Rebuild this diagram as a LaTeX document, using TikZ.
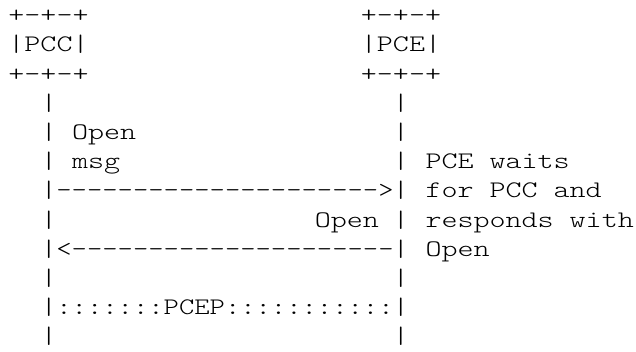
\documentclass[tikz,border=0pt]{standalone}
\usepackage{fontspec}
\newfontfamily\courwide{Latin Modern Mono Light}[FakeStretch=1.286]
\newfontfamily\courtight{Latin Modern Mono Light}[FakeStretch=1.23]
\begin{document}
\begin{tikzpicture}[x=0.75pt,y=-0.75pt,
  base/.style={inner sep=0pt,outer sep=0pt,text=black},
  wide/.style={base,font=\courwide\fontsize{17.8}{22}\selectfont},
  tight/.style={base,font=\courtight\fontsize{17.8}{22}\selectfont},
  bar/.style={wide,anchor=base},
  lefttxt/.style={wide,anchor=base west},
  righttxt/.style={wide,anchor=base east},
  midtxt/.style={tight,anchor=base}]
\fill[white] (0,0) rectangle (636,352);
\useasboundingbox (0,0) rectangle (636,352);
\def\rowy#1{22.8+29.2*#1}
% boxes
\node[bar] (pcctop) at (48.5,{\rowy{0}}) {+-+-+};
\node[bar] (pcetop) at (401,{\rowy{0}}) {+-+-+};
\node[bar] (pcc) at (48.5,{\rowy{1}}) {|PCC|};
\node[bar] (pce) at (401,{\rowy{1}}) {|PCE|};
\node[bar] (pccbot) at (48.5,{\rowy{2}}) {+-+-+};
\node[bar] (pcebot) at (401,{\rowy{2}}) {+-+-+};
% life lines
\foreach \r in {3,...,11}{
  \node[bar] (lbar\r) at (49,{\rowy{\r}}) {|};
  \node[bar] (rbar\r) at (401,{\rowy{\r}}) {|};
}
% left labels
\node[lefttxt] (open1) at (72,{\rowy{4}}) {Open};
\node[lefttxt] (msg) at (72,{\rowy{5}}) {msg};
% messages
\node[midtxt] (req) at (225,{\rowy{6}}) {--------------------->};
\node[righttxt] (open2) at (379,{\rowy{7}}) {Open};
\node[midtxt] (resp) at (225,{\rowy{8}}) {<---------------------};
\node[midtxt] (pcep) at (225,{\rowy{10}}) {:::::::PCEP:::::::::::};
% right note
\node[lefttxt] (n1) at (425.5,{\rowy{5}}) {PCE waits};
\node[lefttxt] (n2) at (425.5,{\rowy{6}}) {for PCC and};
\node[lefttxt] (n3) at (425.5,{\rowy{7}}) {responds with};
\node[lefttxt] (n4) at (425.5,{\rowy{8}}) {Open};
\end{tikzpicture}
\end{document}
